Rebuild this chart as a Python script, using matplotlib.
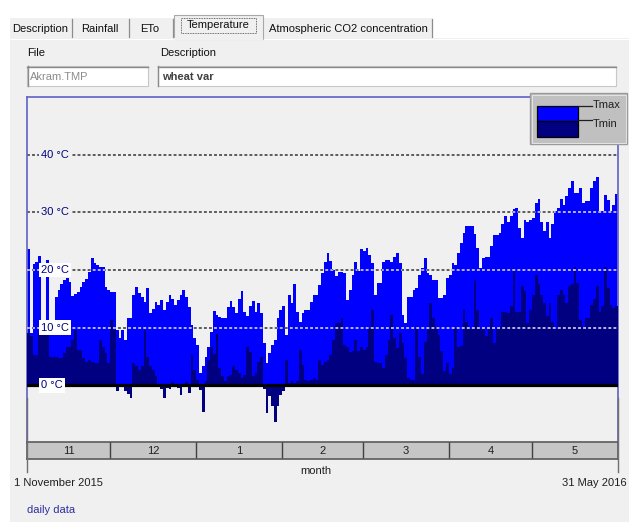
import matplotlib
matplotlib.use("Agg")
import matplotlib.pyplot as plt
from matplotlib.patches import Rectangle
from matplotlib.lines import Line2D
from matplotlib.path import Path
from matplotlib.transforms import blended_transform_factory
import numpy as np

plt.rcParams['font.family'] = ['Liberation Sans', 'DejaVu Sans']

# ---------------- data (daily, 1 Nov 2015 - 31 May 2016) ----------------
month_labels = ["11", "12", "1", "2", "3", "4", "5"]

tmax_nov = [23.6, 9.0, 21.1, 21.4, 22.4, 9.5, 10.0, 21.7, 10.5, 11.0,
            15.3, 16.5, 17.6, 18.2, 18.6, 17.9, 15.5, 15.8, 16.2, 17.1,
            17.9, 18.5, 19.7, 22.0, 21.2, 20.8, 20.5, 20.6, 17.0, 16.5]
tmax_dec = [16.1, 16.1, 9.6, 8.2, 9.6, 7.9, 11.6, 11.6, 15.6, 17.1,
            16.0, 15.3, 14.5, 16.8, 12.5, 13.3, 14.5, 13.9, 14.8, 13.0,
            14.5, 15.6, 15.0, 13.9, 14.8, 15.6, 16.5, 15.3, 13.6, 10.5, 8.2]
tmax_jan = [7.0, 2.1, 3.3, 5.0, 6.7, 9.3, 12.9, 12.2, 11.9,
            11.6, 11.6, 13.6, 14.6, 13.6, 12.6, 14.9, 16.3, 12.8, 12.0,
            13.7, 14.6, 12.8, 14.3, 12.5, 7.3, 3.9, 5.6, 7.0, 7.9,
            11.6, 13.0]
tmax_feb = [13.7, 8.7, 15.6, 14.3, 17.5, 12.8, 11.0, 12.5,
            13.0, 13.0, 14.5, 15.6, 15.7, 17.4, 19.5, 21.4, 22.9, 21.6,
            20.0, 19.0, 19.7, 19.7, 19.5, 14.8, 16.5, 19.1, 21.4, 19.8,
            23.7]
tmax_mar = [23.3, 23.9, 22.6, 21.3, 15.7, 17.7, 17.8, 21.4, 21.7,
            21.8, 21.4, 22.3, 22.9, 21.2, 12.2, 10.8, 15.4, 15.3, 16.5,
            16.8, 19.1, 20.3, 22.0, 19.4, 19.1, 18.3, 18.3, 15.1, 15.1,
            15.7, 18.6]
tmax_apr = [19.1, 21.2, 20.9, 22.9, 24.7, 26.4, 27.7, 27.7,
            27.7, 26.3, 23.8, 20.3, 22.1, 22.3, 22.3, 24.1, 26.0, 26.0,
            26.5, 27.9, 29.3, 28.3, 29.3, 30.5, 30.8, 27.3, 25.5, 28.7,
            28.4, 28.7]
tmax_may = [29.0, 31.6, 32.3, 28.4, 26.7, 28.4, 25.5, 27.9,
            30.2, 30.8, 32.3, 31.2, 32.8, 34.2, 35.4, 33.4, 33.4, 34.2,
            31.7, 32.0, 32.0, 34.2, 35.4, 36.1, 30.2, 30.2, 33.0, 32.2,
            30.2, 31.3, 33.2]

tmin_nov = [9.0, 8.5, 5.3, 5.3, 9.0, 9.0, 9.0, 9.0, 5.0, 5.0,
            5.0, 4.7, 4.7, 5.6, 6.7, 6.7, 7.9, 9.6, 6.1, 6.1,
            4.7, 4.1, 4.4, 4.1, 3.9, 3.9, 7.9, 6.7, 5.6, 3.9]
tmin_dec = [11.3, 9.6, -1.0, 0.3, -0.3, -1.0, -1.5, -2.2, 3.9, 3.3,
            2.7, 3.3, 9.6, 5.0, 3.3, 2.7, 1.6, -0.2, -0.7, -2.2,
            -0.5, -0.7, 0.5, 0.3, -0.5, -1.6, 0.2, 0.5, -1.3, 5.3, 2.7]
tmin_jan = [1.0, -0.8, -4.7, 0.7, 4.4, 6.7, 5.5, 8.9, 3.0,
            1.6, 0.7, 1.6, 1.8, 3.3, 2.7, 2.1, 1.2, 1.8, 6.7,
            5.8, 1.6, 2.1, 4.1, 5.0, -0.7, -4.8, -1.9, -3.6, -6.4,
            -3.6, -1.6]
tmin_feb = [-1.0, 4.4, 0.4, 0.7, 0.4, 0.7, 6.1, 3.6,
            1.0, 0.7, 1.0, 1.3, 1.0, 4.4, 3.6, 4.1, 4.4, 5.3,
            7.9, 10.8, 10.8, 11.6, 7.0, 6.7, 5.7, 5.9, 7.9, 5.9,
            6.7]
tmin_mar = [6.2, 6.7, 9.9, 13.1, 4.1, 3.9, 3.9, 3.0, 5.3,
            7.9, 12.2, 8.2, 6.5, 9.0, 7.3, 4.7, 1.3, 1.0, 1.0,
            9.9, 5.0, 2.0, 7.6, 9.6, 14.2, 11.6, 10.2, 8.8, 5.9,
            2.4, 3.9]
tmin_apr = [2.0, 3.0, 9.9, 6.7, 6.8, 13.1, 11.0, 9.7,
            9.7, 18.3, 13.1, 9.7, 9.7, 8.5, 9.7, 11.7, 7.3, 9.7,
            10.2, 12.8, 12.8, 12.5, 13.7, 20.0, 12.8, 12.8, 17.2, 16.3,
            10.8, 13.1]
tmin_may = [15.7, 19.2, 17.5, 15.7, 14.3, 12.0, 14.3, 11.0,
            9.7, 15.7, 16.6, 15.7, 14.3, 17.2, 17.5, 20.6, 17.7, 11.4,
            10.2, 11.7, 11.7, 14.0, 14.9, 17.2, 12.8, 13.7, 20.6, 16.9,
            14.0, 13.4, 13.7]

y_ticks = [0, 10, 20, 30, 40]

tmax_months = [tmax_nov, tmax_dec, tmax_jan, tmax_feb, tmax_mar, tmax_apr, tmax_may]
tmin_months = [tmin_nov, tmin_dec, tmin_jan, tmin_feb, tmin_mar, tmin_apr, tmin_may]
tmax = np.concatenate([np.array(m, float) for m in tmax_months])
tmin = np.concatenate([np.array(m, float) for m in tmin_months])
n = len(tmax)
days = np.arange(n)
bounds = np.concatenate([[0], np.cumsum([len(m) for m in tmax_months])])

# ---------------- figure / helpers ----------------
W, H = 629, 522
fig = plt.figure(figsize=(W / 100, H / 100), dpi=100)
fig.patch.set_facecolor('white')
BG = '#F0F0F0'
FS = 8


def add_rect(x0, y0, x1, y1, fc, ec='none', lw=0.0, z=1, ls='-'):
    r = Rectangle((x0 / W, 1 - y1 / H), (x1 - x0) / W, (y1 - y0) / H,
                  transform=fig.transFigure, facecolor=fc, edgecolor=ec,
                  linewidth=lw, zorder=z, linestyle=ls)
    fig.add_artist(r)
    return r


def add_line(xs, ys, color, lw=1.0, z=2, ls='-'):
    l = Line2D([x / W for x in xs], [1 - y / H for y in ys],
               transform=fig.transFigure, color=color, linewidth=lw,
               zorder=z, linestyle=ls)
    fig.add_artist(l)


def add_text(x, y, s, ha='left', va='center', z=4, **kw):
    kw.setdefault('fontsize', FS)
    kw.setdefault('color', '#101010')
    fig.text(x / W, 1 - y / H, s, ha=ha, va=va, zorder=z, **kw)


# panel and tab strip
add_rect(10, 38, W, H, BG, z=-2)
add_rect(10, 18, 432, 38, BG, z=-2)
add_line([10, W], [38.5, 38.5], 'white', lw=0.8, z=-1)
for sx in [71.5, 128.5, 172.5, 432]:
    add_line([sx, sx], [19, 37], '#8C8C8C', lw=0.9, z=-1)
# selected tab
add_rect(174.5, 15, 263, 38.6, BG, ec='#A8A8A8', lw=0.8, z=0)
add_line([175.2, 262.3], [38.6, 38.6], BG, lw=1.6, z=0)
add_rect(181, 18, 256, 33, 'none', ec='#404040', lw=0.6, ls=(0, (1, 1)), z=1)

add_text(40, 28.5, 'Description', ha='center')
add_text(100, 28.5, 'Rainfall', ha='center')
add_text(150, 28.5, 'ETo', ha='center')
add_text(218, 25.5, 'Temperature', ha='center')
add_text(269, 28.5, 'Atmospheric CO2 concentration')

# file / description fields
add_text(27, 53, 'File')
add_text(160, 53, 'Description')
for (x0, x1) in [(27, 148), (158, 616)]:
    add_rect(x0, 66, x1, 86, 'white', ec='#C8C8C8', lw=0.8, z=0)
    add_line([x0, x1], [66.5, 66.5], '#8A8A8A', lw=1.0, z=1)
    add_line([x0 + 0.5, x0 + 0.5], [66, 86], '#8A8A8A', lw=1.0, z=1)
add_text(30, 76.5, 'Akram.TMP', color='#8C8C8C')
add_text(162, 76.5, 'wheat var', color='#404040', fontweight='bold')

# ---------------- main chart ----------------
ax = fig.add_axes([27 / W, 1 - 443 / H, 591 / W, 346 / H])
ax.set_facecolor(BG)
ax.set_xlim(0, n)
ax.set_ylim(-10, 50)
ax.set_xticks([])
ax.set_yticks([])
for side in ['top', 'left', 'right']:
    ax.spines[side].set_color('#6A6AC8')
    ax.spines[side].set_linewidth(1.3)
ax.spines['bottom'].set_visible(False)

ax.bar(days, tmax, width=1.0, align='edge', color='#0000FF',
       linewidth=0, antialiased=False, zorder=2)
ax.bar(days, tmin, width=1.0, align='edge', color='#000080',
       linewidth=0, antialiased=False, zorder=3)

# step outline of Tmax area, used to lighten the grid where it crosses the bars
verts = [(0.0, 0.0)]
for i in range(n):
    verts.append((float(i), tmax[i]))
    verts.append((float(i + 1), tmax[i]))
verts.append((float(n), 0.0))
verts.append((0.0, 0.0))
clip = Path(verts, closed=True)

dash = (0, (1.6, 1.2))
for v in y_ticks[1:]:
    ax.axhline(v, color='#505050', lw=1.3, ls=dash, zorder=1)
    ln = ax.axhline(v, color='#C4C4E4', lw=1.3, ls=dash, zorder=4)
    ln.set_clip_path(clip, ax.transData)

ax.axhline(0, color='black', lw=2.3, zorder=5)

tr = blended_transform_factory(ax.transAxes, ax.transData)
for v in y_ticks:
    fc = 'white' if v <= 20 else BG
    ax.text(0.0237, v, f"{v} °C", transform=tr, ha='left', va='center',
            fontsize=FS, color='#000080', zorder=6,
            bbox=dict(boxstyle='square,pad=0.22', fc=fc, ec='none'))

# gray lower ends of the frame
add_line([27, 27], [398, 472], '#707070', lw=1.0, z=3)
add_line([618, 618], [398, 472], '#707070', lw=1.0, z=3)

# ---------------- month bar ----------------
axm = fig.add_axes([27 / W, 1 - 459 / H, 591 / W, 17 / H])
axm.set_facecolor('#C6C6C6')
axm.set_xlim(0, n)
axm.set_ylim(0, 1)
axm.set_xticks([])
axm.set_yticks([])
for s in axm.spines.values():
    s.set_color('#5A5A5A')
    s.set_linewidth(1.2)
for b in bounds[1:-1]:
    axm.axvline(b, color='#404040', lw=1.0)
for i, lab in enumerate(month_labels):
    axm.text((bounds[i] + bounds[i + 1]) / 2, 0.5, lab, ha='center',
             va='center', fontsize=FS, color='#202020')

add_text(316, 471, 'month', ha='center', color='#202020')
add_text(14, 483, '1 November 2015', color='#202020')
add_text(627, 483, '31 May 2016', ha='right', color='#202020')
add_text(27, 510, 'daily data', color='#2E2EA0')

# ---------------- legend box ----------------
add_rect(530, 93, 627, 144, '#C0C0C0', ec='#9A9A9A', lw=1.0, z=6)
add_rect(531.5, 94.5, 625.5, 142.5, 'none', ec='#E4E4E4', lw=0.7, z=6)
add_rect(537, 106, 578, 121, '#0000FF', ec='black', lw=0.9, z=7)
add_rect(537, 121, 578, 137, '#000080', ec='black', lw=0.9, z=7)
add_line([578, 592], [106, 106], '#202020', lw=0.9, z=7)
add_line([578, 592], [120, 120], '#202020', lw=0.9, z=7)
add_text(593, 105, 'Tmax', z=8, color='#202020')
add_text(593, 124, 'Tmin', z=8, color='#202020')

fig.savefig('out.png', dpi=100, facecolor=fig.get_facecolor())
